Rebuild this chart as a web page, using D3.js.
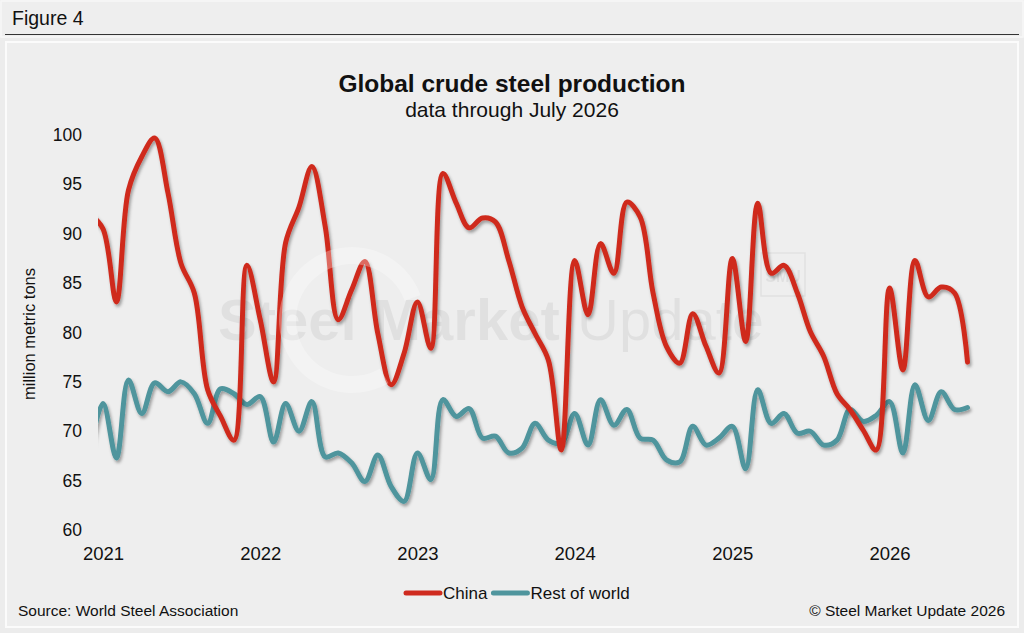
<!DOCTYPE html>
<html lang="en">
<head>
    <meta charset="UTF-8">
    <title>Global crude steel production</title>
    <script type="text/javascript" src="https://cdn.jsdelivr.net/npm/d3@7"></script>
    <style>
        body { margin: 0; background: #ebebeb; }
        text { font-family: "Liberation Sans", Arial, Helvetica, sans-serif; fill: #111; }
    </style>
</head>
<body>
<script type="text/javascript">
    var w = 1024;
    var h = 633;

    // monthly values, Dec 2020 .. Jul 2026 (first point is clipped by the plot edge)
    var months = d3.timeMonth.range(new Date(2020, 11, 1), new Date(2026, 7, 1));
    var china = [92.0,
        90.5, 83.1, 94.4, 97.8, 99.7, 94.1, 87.0, 84.0, 74.2, 71.5, 69.1, 86.8,
        81.3, 75.0, 89.1, 92.7, 96.8, 90.7, 81.3, 84.3, 87.2, 79.9, 74.7, 77.9,
        83.1, 78.4, 96.1, 93.1, 90.6, 91.6, 91.2, 87.3, 82.6, 79.9, 77.2, 68.1,
        87.3, 81.8, 89.0, 86.0, 93.2, 91.7, 84.0, 78.6, 76.9, 81.9, 78.6, 75.9,
        87.5, 79.1, 93.1, 86.0, 86.8, 84.0, 80.1, 77.6, 73.8, 72.2, 70.1, 68.1,
        84.5, 76.2, 87.3, 83.6, 84.6, 84.0, 77.0];
    var restOfWorld = [68.0,
        72.8, 67.3, 75.2, 71.8, 74.9, 74.0, 75.0, 73.8, 70.8, 74.3, 73.8, 72.7,
        73.5, 68.9, 72.8, 70.0, 73.0, 67.4, 67.8, 66.8, 64.9, 67.6, 64.4, 62.9,
        67.8, 65.1, 73.2, 71.5, 72.3, 69.3, 69.5, 67.8, 68.3, 70.8, 69.1, 68.8,
        71.8, 68.6, 73.2, 70.6, 72.2, 69.3, 69.1, 67.1, 66.9, 70.5, 68.6, 69.3,
        70.5, 66.2, 74.2, 70.8, 71.8, 69.8, 70.0, 68.6, 69.1, 72.2, 71.0, 71.6,
        73.0, 67.8, 74.7, 71.1, 74.0, 72.2, 72.4];
    var seriesNames = ["China", "Rest of world"];
    var seriesColors = ["#cf2b1f", "#4f959d"];
    var yTicks = [60, 65, 70, 75, 80, 85, 90, 95, 100];

    var svg = d3.select("body")
        .append("svg")
        .attr("width", w)
        .attr("height", h);

    var defs = svg.append("defs");
    defs.append("clipPath").attr("id", "plotClip")
        .append("rect").attr("x", 98).attr("y", 100).attr("width", 912).attr("height", 460);
    defs.append("filter").attr("id", "shadow")
        .attr("x", "-5%").attr("y", "-5%").attr("width", "110%").attr("height", "115%")
        .append("feDropShadow")
        .attr("dx", 1.5).attr("dy", 2.5).attr("stdDeviation", 1.6)
        .attr("flood-color", "#000").attr("flood-opacity", 0.35);

    // page frame
    svg.append("rect").attr("width", w).attr("height", h).attr("fill", "#ececec");
    svg.append("rect").attr("x", 1).attr("y", 1).attr("width", w - 2).attr("height", 36)
        .attr("fill", "#eeeeee").attr("stroke", "#f7f7f7").attr("stroke-width", 1.5);
    svg.append("text").attr("x", 12).attr("y", 25).attr("font-size", 19.5).text("Figure 4");
    svg.append("line").attr("x1", 5).attr("x2", 1019).attr("y1", 34.5).attr("y2", 34.5)
        .attr("stroke", "#333").attr("stroke-width", 1);
    svg.append("rect").attr("x", 6).attr("y", 42).attr("width", 1012).attr("height", 585)
        .attr("fill", "#eeeeee").attr("stroke", "#fbfbfb").attr("stroke-width", 2);

    // titles
    svg.append("text").attr("x", 512).attr("y", 92).attr("text-anchor", "middle")
        .attr("font-size", 24.5).attr("font-weight", "bold").text("Global crude steel production");
    svg.append("text").attr("x", 512).attr("y", 117).attr("text-anchor", "middle")
        .attr("font-size", 21).text("data through July 2026");

    // scales
    var x = d3.scaleTime()
        .domain([new Date(2021, 0, 1), new Date(2026, 6, 1)])
        .range([103, 967.5]);
    var y = d3.scaleLinear().domain([60, 100]).range([530, 135]);

    // watermark text (behind lines)
    var wm = svg.append("g").attr("opacity", 0.05);
    wm.append("text").attr("x", 218).attr("y", 340).attr("font-size", 58)
        .attr("font-weight", "bold").style("fill", "#000").text("Steel Market");
    wm.append("text").attr("x", 577).attr("y", 340).attr("font-size", 58)
        .style("fill", "#000").text("Update");
    wm.append("rect").attr("x", 761).attr("y", 253).attr("width", 44).attr("height", 43)
        .attr("fill", "none").attr("stroke", "#000").attr("stroke-width", 1.5);
    wm.append("text").attr("x", 783).attr("y", 282).attr("text-anchor", "middle")
        .attr("font-size", 16).attr("font-weight", "bold").style("fill", "#000").text("SMU");

    // axes
    var yAxis = svg.append("g")
        .attr("transform", "translate(98,0)")
        .call(d3.axisLeft(y).tickValues(yTicks).tickSize(0).tickPadding(16));
    yAxis.select(".domain").remove();
    yAxis.selectAll("text").attr("font-size", 17.5)
        .attr("font-family", "Liberation Sans, Arial, sans-serif").style("fill", "#111");

    var xAxis = svg.append("g")
        .attr("transform", "translate(0,530)")
        .call(d3.axisBottom(x).ticks(d3.timeYear.every(1))
            .tickFormat(d3.timeFormat("%Y")).tickSize(0).tickPadding(17));
    xAxis.select(".domain").remove();
    xAxis.selectAll("text").attr("font-size", 18.5)
        .attr("font-family", "Liberation Sans, Arial, sans-serif").style("fill", "#111");

    svg.append("text")
        .attr("transform", "translate(35,334) rotate(-90)")
        .attr("text-anchor", "middle").attr("font-size", 16.5)
        .text("million metric tons");

    // lines
    var line = d3.line()
        .x(function (d, i) { return x(months[i]); })
        .y(function (d) { return y(d); })
        .curve(d3.curveCatmullRom.alpha(0.5));

    var plot = svg.append("g").attr("clip-path", "url(#plotClip)");
    var seriesData = [restOfWorld, china];
    var seriesCol = [seriesColors[1], seriesColors[0]];
    plot.selectAll("path.series")
        .data(seriesData)
        .enter()
        .append("path")
        .attr("class", "series")
        .attr("d", line)
        .attr("fill", "none")
        .attr("stroke", function (d, i) { return seriesCol[i]; })
        .attr("stroke-width", 5)
        .attr("stroke-linejoin", "round")
        .attr("stroke-linecap", "round")
        .attr("filter", "url(#shadow)");

    // watermark ring (over lines)
    var ring = d3.arc()
        .innerRadius(56).outerRadius(73)
        .startAngle(150 * Math.PI / 180).endAngle(430 * Math.PI / 180);
    svg.append("path")
        .attr("d", ring())
        .attr("transform", "translate(352,320)")
        .attr("fill", "#ffffff").attr("opacity", 0.3);

    // legend
    var legend = svg.append("g").attr("transform", "translate(0,593)");
    var lx = 404;
    seriesNames.forEach(function (name, i) {
        legend.append("line").attr("x1", lx + 2).attr("x2", lx + 36)
            .attr("y1", 0).attr("y2", 0)
            .attr("stroke", seriesColors[i]).attr("stroke-width", 5)
            .attr("stroke-linecap", "round");
        var t = legend.append("text").attr("x", lx + 39).attr("y", 6)
            .attr("font-size", 17).text(name);
        lx = lx + 39 + t.node().getComputedTextLength() + 4;
    });

    // footer
    svg.append("text").attr("x", 18).attr("y", 616).attr("font-size", 15.5)
        .text("Source: World Steel Association");
    svg.append("text").attr("x", 1005).attr("y", 616).attr("text-anchor", "end")
        .attr("font-size", 15.5).text("\u00a9 Steel Market Update 2026");
</script>
</body>
</html>
